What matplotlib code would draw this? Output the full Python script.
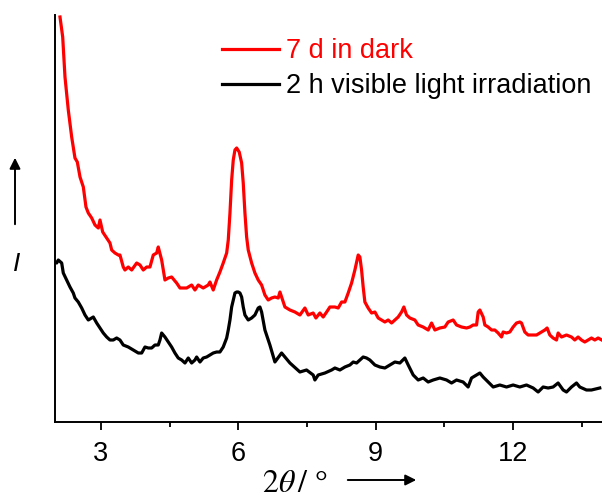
import matplotlib
matplotlib.use("Agg")
import matplotlib.pyplot as plt
import numpy as np

# ---- data (intensity in arbitrary units) ----
dark_2theta = [2.109, 2.168, 2.218, 2.290, 2.364, 2.436, 2.487, 2.546, 2.618, 2.676, 2.727, 2.801,
               2.873, 2.945, 2.982, 3.041, 3.128, 3.200, 3.237, 3.309, 3.381, 3.418, 3.490, 3.527,
               3.599, 3.674, 3.783, 3.855, 3.927, 4.001, 4.073, 4.145, 4.219, 4.254, 4.328, 4.400,
               4.472, 4.546, 4.655, 4.728, 4.874, 4.983, 5.055, 5.127, 5.236, 5.345, 5.382, 5.454,
               5.528, 5.600, 5.672, 5.747, 5.782, 5.819, 5.856, 5.891, 5.928, 5.965, 6.021, 6.074,
               6.109, 6.146, 6.183, 6.218, 6.292, 6.364, 6.436, 6.510, 6.582, 6.654, 6.728, 6.800,
               6.872, 6.910, 6.946, 7.019, 7.128, 7.237, 7.346, 7.455, 7.527, 7.636, 7.695, 7.782,
               7.854, 7.929, 8.001, 8.110, 8.182, 8.256, 8.328, 8.400, 8.474, 8.546, 8.618, 8.655,
               8.692, 8.727, 8.764, 8.836, 8.911, 8.983, 9.055, 9.129, 9.201, 9.273, 9.347, 9.419,
               9.491, 9.565, 9.615, 9.674, 9.746, 9.855, 9.927, 10.036, 10.146, 10.220, 10.292,
               10.401, 10.510, 10.582, 10.691, 10.765, 10.874, 10.984, 11.056, 11.128, 11.202,
               11.237, 11.274, 11.346, 11.383, 11.455, 11.529, 11.601, 11.673, 11.747, 11.782,
               11.856, 11.928, 12.000, 12.074, 12.146, 12.183, 12.255, 12.327, 12.402, 12.511,
               12.620, 12.692, 12.742, 12.801, 12.873, 12.947, 12.982, 13.056, 13.165, 13.274,
               13.346, 13.418, 13.492, 13.564, 13.637, 13.711, 13.783, 13.855, 13.935]
dark_I = [405, 385, 345, 312, 285, 264, 260, 245, 235, 215, 209, 204,
          197, 194, 202, 190, 184, 179, 172, 169, 167, 167, 155, 152,
          155, 152, 159, 157, 152, 155, 155, 167, 169, 175, 162, 142,
          144, 145, 139, 134, 134, 137, 132, 137, 134, 137, 140, 132,
          142, 150, 159, 169, 182, 209, 242, 262, 272, 274, 270, 259,
          239, 209, 185, 172, 159, 149, 142, 137, 127, 122, 124, 125,
          124, 130, 125, 115, 112, 110, 107, 114, 107, 109, 104, 109,
          105, 110, 115, 115, 114, 120, 120, 129, 139, 152, 167, 165,
          152, 135, 120, 114, 109, 110, 104, 102, 100, 102, 99, 102,
          105, 110, 115, 107, 104, 102, 97, 95, 92, 99, 92,
          94, 95, 100, 102, 97, 95, 94, 95, 97, 97,
          110, 112, 105, 97, 95, 92, 92, 89, 85, 90,
          89, 90, 95, 99, 100, 99, 90, 87, 87, 87,
          90, 92, 94, 87, 84, 82, 89, 85, 87, 85,
          82, 85, 82, 80, 82, 84, 82, 84, 82]

light_2theta = [2.000, 2.037, 2.072, 2.146, 2.181, 2.255, 2.327, 2.399, 2.436, 2.508, 2.583, 2.655,
                2.727, 2.801, 2.836, 2.910, 2.982, 3.054, 3.128, 3.200, 3.272, 3.346, 3.418, 3.490,
                3.599, 3.708, 3.818, 3.892, 3.964, 4.036, 4.110, 4.182, 4.254, 4.291, 4.328, 4.400,
                4.472, 4.546, 4.618, 4.690, 4.765, 4.837, 4.909, 4.983, 5.055, 5.092, 5.164, 5.236,
                5.310, 5.382, 5.454, 5.528, 5.600, 5.672, 5.747, 5.782, 5.819, 5.856, 5.891, 5.928,
                5.965, 6.000, 6.037, 6.074, 6.109, 6.146, 6.218, 6.292, 6.364, 6.436, 6.473, 6.510,
                6.582, 6.691, 6.800, 6.946, 7.128, 7.346, 7.491, 7.636, 7.673, 7.745, 7.892, 8.038,
                8.110, 8.219, 8.328, 8.437, 8.510, 8.584, 8.655, 8.727, 8.801, 8.873, 8.983, 9.092,
                9.201, 9.310, 9.419, 9.528, 9.637, 9.710, 9.819, 9.928, 10.037, 10.146, 10.255,
                10.401, 10.547, 10.656, 10.765, 10.909, 11.018, 11.092, 11.201, 11.274, 11.346,
                11.455, 11.565, 11.710, 11.856, 12.000, 12.146, 12.292, 12.437, 12.546, 12.655,
                12.764, 12.873, 12.982, 13.092, 13.165, 13.274, 13.383, 13.455, 13.601, 13.710,
                13.891]
light_I = [160, 159, 162, 159, 149, 142, 135, 129, 124, 120, 114, 107,
           102, 104, 105, 99, 94, 89, 85, 82, 82, 84, 82, 77,
           75, 72, 69, 69, 75, 74, 74, 77, 77, 82, 89, 85,
           80, 75, 69, 64, 62, 59, 64, 59, 62, 65, 60, 64,
           65, 67, 69, 70, 70, 75, 84, 92, 102, 115, 122, 129,
           130, 130, 129, 125, 115, 107, 102, 104, 107, 114, 115, 110,
           92, 77, 60, 69, 59, 50, 52, 47, 42, 47, 49, 52,
           54, 52, 55, 57, 60, 59, 62, 65, 64, 62, 57, 55,
           54, 57, 60, 59, 64, 57, 47, 42, 44, 40, 42,
           44, 42, 39, 42, 40, 35, 44, 47, 49, 45,
           40, 35, 37, 35, 37, 35, 37, 34, 30, 35,
           34, 35, 39, 32, 30, 35, 39, 35, 32, 32,
           34]

labels = ["7 d in dark", "2 h visible light irradiation"]
colors = ["#ff0000", "#000000"]
xticks = [3, 6, 9, 12]
xminor = [4.5, 7.5, 10.5, 13.5]

# ---- figure ----
fig = plt.figure(figsize=(6.02, 5.00), dpi=100)
ax = fig.add_axes([55 / 602, 78 / 500, 547 / 602, 407 / 500])

ax.plot(dark_2theta, dark_I, color=colors[0], lw=2.3, label=labels[0], solid_joinstyle="round")
ax.plot(light_2theta, light_I, color=colors[1], lw=2.3, label=labels[1], solid_joinstyle="round")

ax.set_xlim(2.0, 13.94)
ax.set_ylim(0, 407)
ax.set_yticks([])
ax.set_xticks(xticks)
ax.set_xticklabels([str(t) for t in xticks], fontfamily="Liberation Sans", fontsize=19.5)
ax.set_xticks(xminor, minor=True)
ax.tick_params(axis="x", which="major", direction="out", length=6, width=1.3, pad=8)
ax.tick_params(axis="x", which="minor", direction="out", length=3.5, width=1.3)

for s in ["top", "right"]:
    ax.spines[s].set_visible(False)
for s in ["left", "bottom"]:
    ax.spines[s].set_linewidth(1.4)

leg = ax.legend(loc="upper left", bbox_to_anchor=(222 / 602, 1 - 38 / 500),
                bbox_transform=fig.transFigure, frameon=False, borderpad=0,
                borderaxespad=0, handlelength=2.12, handletextpad=0.25,
                labelspacing=0.35, labelcolor="linecolor",
                prop={"family": "Liberation Sans", "size": 19.5})
for line in leg.get_lines():
    line.set_linewidth(2.3)

# y label with arrow
fig.text(17 / 602, 1 - 264 / 500, "I", fontsize=19, fontstyle="italic",
         fontfamily="Liberation Sans", ha="center", va="center")
fig.patches.append(matplotlib.patches.FancyArrowPatch(
    (15 / 602, 1 - 227 / 500), (15 / 602, 1 - 155 / 500), transform=fig.transFigure,
    arrowstyle="-|>", mutation_scale=16, lw=1.4, color="black"))

# x label with arrow
fig.text(262 / 602, 1 - 484 / 500, r"$\mathit{2\theta}\,\mathit{/}$ °", fontsize=23,
         fontfamily="Liberation Serif", ha="left", va="center",
         math_fontfamily="stix")
fig.patches.append(matplotlib.patches.FancyArrowPatch(
    (345 / 602, 1 - 480 / 500), (419 / 602, 1 - 480 / 500), transform=fig.transFigure,
    arrowstyle="-|>", mutation_scale=16, lw=1.4, color="black"))

fig.savefig("out.png", dpi=100)
